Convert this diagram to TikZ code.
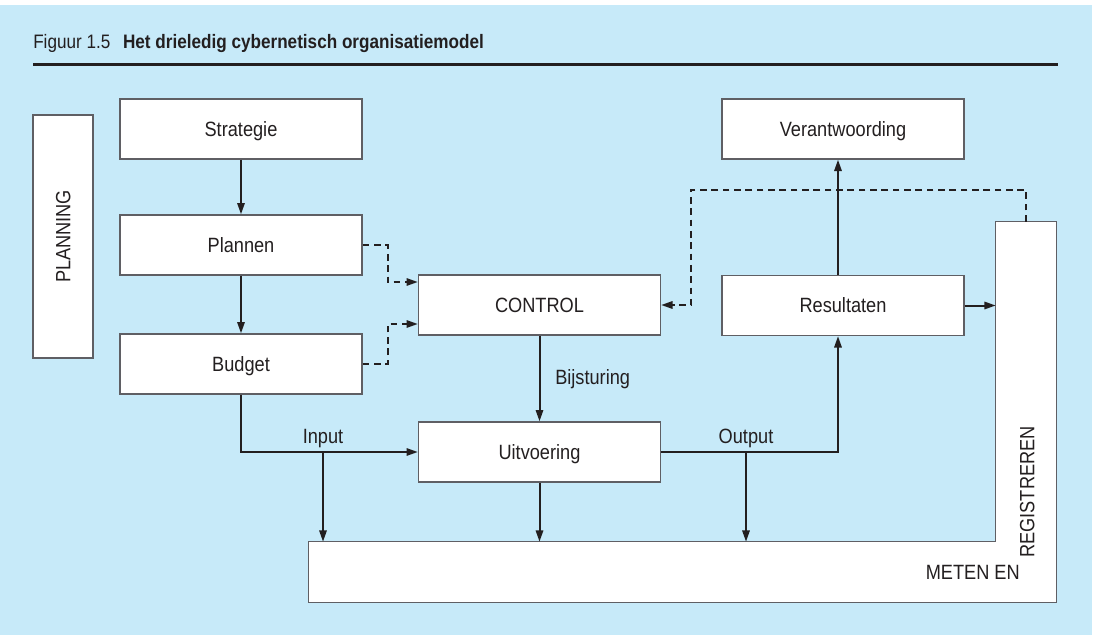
\documentclass[tikz,border=0pt]{standalone}
\usepackage{fontspec}
\setmainfont{Liberation Sans}[FakeStretch=0.88]
\usetikzlibrary{arrows.meta,calc}
\definecolor{bgblue}{RGB}{199,234,249}
\definecolor{inkgray}{RGB}{35,31,32}
\definecolor{edgegray}{RGB}{95,95,100}
\tikzset{
  tekst/.style={inner sep=0pt, text=inkgray, font=\fontsize{15.5}{18}\selectfont, text height=11.1pt, text depth=0pt},
  blok/.style={tekst, draw=edgegray, fill=white, line width=1pt, minimum width=181.5pt, minimum height=45pt},
  pijl/.style={->, draw=inkgray, line width=1.5pt},
  stippel/.style={pijl, dash pattern=on 5pt off 3.5pt}
}
\begin{document}
\begin{tikzpicture}[x=0.75pt,y=0.75pt,yscale=-1,>={Triangle[length=8.5pt,width=5.5pt]}]
\useasboundingbox (0,0) rectangle (1095,635);
%Shape: Background
\fill[bgblue] (0,5) rectangle (1092,635);

% Text Node: title
\node[anchor=base west, inner sep=0pt, text=inkgray, font=\fontsize{14.6}{17}\selectfont] (titel) at (33,49) {Figuur 1.5\hspace{9.5pt}\textbf{Het drieledig cybernetisch organisatiemodel}};
%Straight Lines: title rule
\draw[inkgray, line width=2pt] (33,64.5) -- (1058,64.5);

%Shape: Rectangles
\node[blok, minimum width=182.25pt, rotate=90] (planning) at (63,236.5) {PLANNING};
\node[blok] (strategie) at (241,129) {Strategie};
\node[blok] (plannen) at (241,245) {Plannen};
\node[blok] (budget) at (241,364) {Budget};
\node[blok] (control) at (539.5,305) {CONTROL};
\node[blok] (uitvoering) at (539.5,452) {Uitvoering};
\node[blok] (resultaten) at (843,305.5) {Resultaten};
\node[blok] (verantwoording) at (843,129) {Verantwoording};

%Shape: L-shaped block
\node[inner sep=0pt, minimum width=45pt, minimum height=285pt] (registreren) at (1026,412) {};
\node[inner sep=0pt, minimum width=560.25pt, minimum height=45pt] (meten) at (682.5,572) {};
\draw[draw=edgegray, fill=white, line width=1pt] (meten.north west) -- (meten.north west -| registreren.west) -- (registreren.north west) -- (registreren.north east) -- (meten.south east) -- (meten.south west) -- cycle;
\node[tekst, anchor=east] (metenlabel) at (1020,572) {METEN EN};
\node[tekst, rotate=90] (reglabel) at (1027,492) {REGISTREREN};

%Straight Lines: planning chain
\draw[pijl] (strategie) -- (plannen);
\draw[pijl] (plannen) -- (budget);
\draw[pijl] (control) -- (uitvoering);
%Straight Lines: input
\draw[pijl] (budget.south) |- (uitvoering.west);
\coordinate (intap) at (323,452);
\draw[pijl] (intap) -- (intap |- meten.north);
\draw[pijl] (uitvoering) -- (uitvoering |- meten.north);
%Straight Lines: output
\coordinate (rescol) at (838,452);
\draw[pijl] (uitvoering.east) -| (rescol |- resultaten.south);
\coordinate (outtap) at (746,452);
\draw[pijl] (outtap) -- (outtap |- meten.north);
\draw[pijl] (rescol |- resultaten.north) -- (rescol |- verantwoording.south);
\draw[pijl] (resultaten.east) -- (resultaten.east -| registreren.west);

%Dashed Lines: feedback to control
\draw[stippel] (plannen.east) -- ++(25,0) |- ($(control.west)+(0,-23)$);
\draw[stippel] (budget.east) -- ++(25,0) |- ($(control.west)+(0,19)$);
\draw[stippel] (registreren.north) -- ++(0,-32) -| ($(control.east)+(30,0)$) -- (control.east);

% Text Node
\node[tekst, anchor=base] (inputlabel) at (323,443) {Input};
% Text Node
\node[tekst, anchor=base] (outputlabel) at (746,443) {Output};
% Text Node
\node[tekst, anchor=base west] (bijsturing) at (555,384) {Bijsturing};

\end{tikzpicture}
\end{document}
